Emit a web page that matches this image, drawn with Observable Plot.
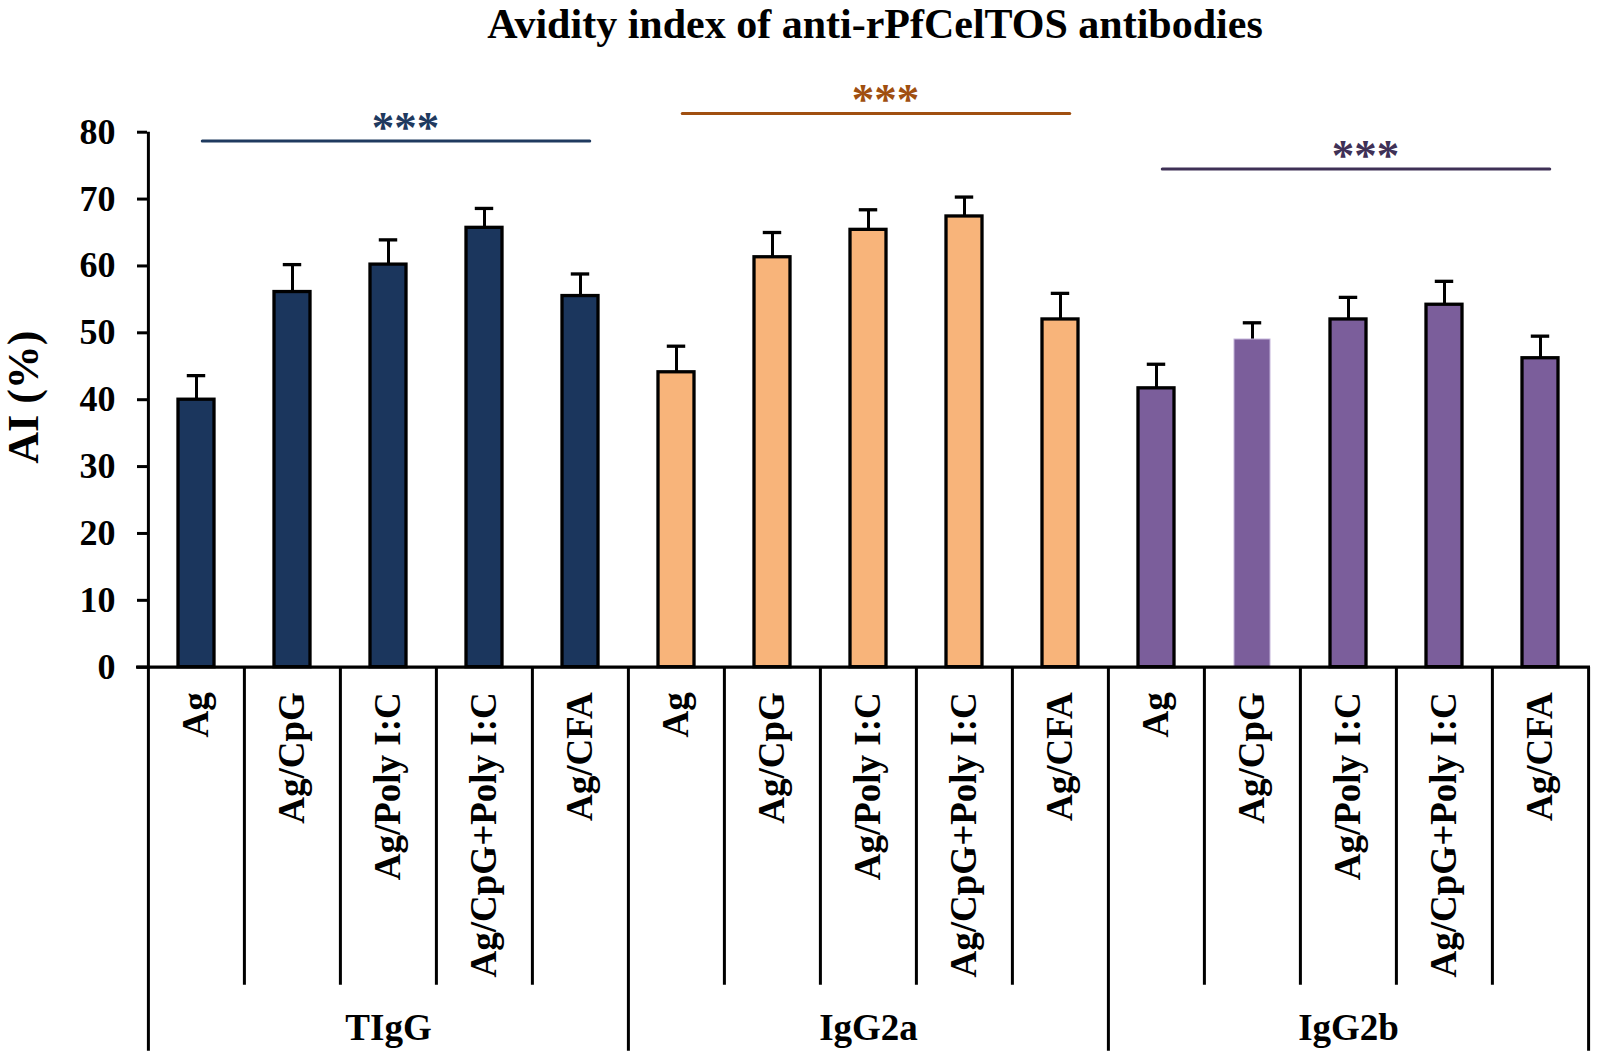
<!DOCTYPE html>
<html>
<head>
<meta charset="utf-8">
<script src="https://cdn.jsdelivr.net/npm/d3@7"></script>
<script src="https://cdn.jsdelivr.net/npm/@observablehq/plot@0.6"></script>
<style>
  html, body { margin: 0; padding: 0; background: #ffffff; }
  #wrap { position: relative; width: 1598px; height: 1053px; overflow: hidden; }
  #title {
    position: absolute; left: 0; top: 0; width: 1598px; height: 55px;
    box-sizing: border-box; padding-left: 152px; text-align: center;
    font-family: "Liberation Serif", "Times New Roman", serif; font-weight: bold;
    font-size: 42px; line-height: 48px; color: #000;
  }
  #chart { position: absolute; left: 0; top: 55px; }
</style>
</head>
<body>
<div id="wrap">
  <div id="title">Avidity index of anti-rPfCelTOS antibodies</div>
  <div id="chart"></div>
</div>
<script>
// ---------------- data ----------------
const groups = ["TIgG", "IgG2a", "IgG2b"];
const adjuvants = ["Ag", "Ag/CpG", "Ag/Poly I:C", "Ag/CpG+Poly I:C", "Ag/CFA"];
const tiggMean  = [40.0, 56.1, 60.2, 65.7, 55.5];
const tiggSD    = [3.6, 4.1, 3.7, 2.9, 3.3];
const igg2aMean = [44.1, 61.3, 65.4, 67.4, 52.0];
const igg2aSD   = [3.9, 3.7, 3.0, 2.9, 3.9];
const igg2bMean = [41.7, 49.0, 52.0, 54.2, 46.2];
const igg2bSD   = [3.6, 2.5, 3.3, 3.5, 3.3];
const sigLevel  = [78.7, 82.8, 74.5];   // height of the significance bar per group
const sigText   = "***";
const yTicks    = [0, 10, 20, 30, 40, 50, 60, 70, 80];
const yTitle    = "AI (%)";

// ---------------- styles ----------------
const groupColors = ["#1b365d", "#f8b47a", "#7b5e9b"];
const sigColors   = ["#1f3a5f", "#a04f10", "#3f3156"];
const font = "Liberation Serif, Times New Roman, serif";

const means = [tiggMean, igg2aMean, igg2bMean];
const sds = [tiggSD, igg2aSD, igg2bSD];
const rows = groups.flatMap((g, gi) => adjuvants.map((a, ai) => ({
  key: g + "|" + a, group: g, adj: a, ai,
  mean: means[gi][ai], sd: sds[gi][ai]
})));
const keys = rows.map(d => d.key);
const sig = groups.map((g, gi) => ({
  group: g, level: sigLevel[gi], color: sigColors[gi],
  from: g + "|" + adjuvants[0], to: g + "|" + adjuvants[adjuvants.length - 1],
  mid: g + "|" + adjuvants[2]
}));
const groupLabels = groups.map(g => ({group: g, mid: g + "|" + adjuvants[2]}));

// ---------------- layout ----------------
const W = 1598, H = 998;
const mL = 147, mR = 8, mT = 76.7, mB = 386.3;
const step = (W - mL - mR) / keys.length;
const pad = 0.62;
const bw = step * (1 - pad);
const pxPerUnit = (H - mB - mT) / 80;
const sepShort = -318 / pxPerUnit;   // end of separators inside a group
const sepLong  = -384 / pxPerUnit;   // end of group separators

const isPlain = d => d.group === "IgG2b" && d.adj === "Ag/CpG";

const chart = Plot.plot({
  width: W, height: H,
  marginLeft: mL, marginRight: mR, marginTop: mT, marginBottom: mB,
  style: {fontFamily: font, fontWeight: "bold", color: "black", background: "white", overflow: "visible"},
  x: {domain: keys, padding: pad, paddingInner: pad, paddingOuter: pad / 2, axis: null},
  y: {domain: [0, 80], axis: null},
  color: {domain: groups, range: groupColors},
  marks: [
    // error bars (upper only)
    Plot.ruleX(rows, {x: "key", y1: "mean", y2: d => d.mean + d.sd, stroke: "black", strokeWidth: 3}),
    Plot.tickY(rows, {x: "key", y: d => d.mean + d.sd, stroke: "black", strokeWidth: 3.3,
      insetLeft: (bw - 19) / 2, insetRight: (bw - 19) / 2}),
    // bars
    Plot.barY(rows.filter(d => !isPlain(d)), {x: "key", y: "mean", fill: "group", stroke: "black", strokeWidth: 3.3}),
    Plot.barY(rows.filter(isPlain), {x: "key", y: "mean", fill: "group", stroke: "#c4b4da", strokeWidth: 1}),
    // x axis line
    Plot.ruleY([0], {stroke: "black", strokeWidth: 3.3, insetLeft: -11}),
    // y axis line continuing down as the first group border
    Plot.ruleX([rows[0]], {x: "key", dx: -step / 2, y1: 80, y2: sepLong, stroke: "black", strokeWidth: 3}),
    // group borders
    Plot.ruleX(rows.filter(d => d.ai === 0 && d.group !== groups[0]), {x: "key", dx: -step / 2, y1: 0, y2: sepLong, stroke: "black", strokeWidth: 3}),
    Plot.ruleX([rows[rows.length - 1]], {x: "key", dx: step / 2, y1: 0, y2: sepLong, stroke: "black", strokeWidth: 3}),
    // separators between categories
    Plot.ruleX(rows.filter(d => d.ai > 0), {x: "key", dx: -step / 2, y1: 0, y2: sepShort, stroke: "black", strokeWidth: 3}),
    // y axis ticks and labels
    Plot.axisY({ticks: yTicks, tickSize: 10, tickPadding: 22, strokeWidth: 3, fontSize: 36,
      fontWeight: "bold", fontFamily: font, label: null, stroke: "black", fill: "black"}),
    Plot.text([yTitle], {text: d => d, frameAnchor: "left", rotate: -90, dx: -124, dy: 64,
      fontSize: 44, fontWeight: "bold", fontFamily: font, fill: "black"}),
    // category labels
    Plot.text(rows, {x: "key", y: 0, text: "adj", rotate: -90, textAnchor: "end", dy: 25,
      fontSize: 37, fontWeight: "bold", fontFamily: font, fill: "black"}),
    // group labels
    Plot.text(groupLabels, {x: "mid", y: 0, text: "group", dy: 373, lineAnchor: "bottom",
      fontSize: 37, fontWeight: "bold", fontFamily: font, fill: "black"}),
    // significance bars
    Plot.ruleY(sig, {x1: "from", x2: "to", y: "level", stroke: "color", strokeWidth: 3,
      strokeLinecap: "round", insetLeft: bw / 2 - 2, insetRight: bw / 2 - 2, dx: 8}),
    Plot.text(sig, {x: "mid", y: "level", text: () => sigText, fill: "color", dx: 17, dy: 1,
      lineAnchor: "bottom", fontSize: 45, fontWeight: "bold", fontFamily: font})
  ]
});
document.getElementById("chart").appendChild(chart);
</script>
</body>
</html>
